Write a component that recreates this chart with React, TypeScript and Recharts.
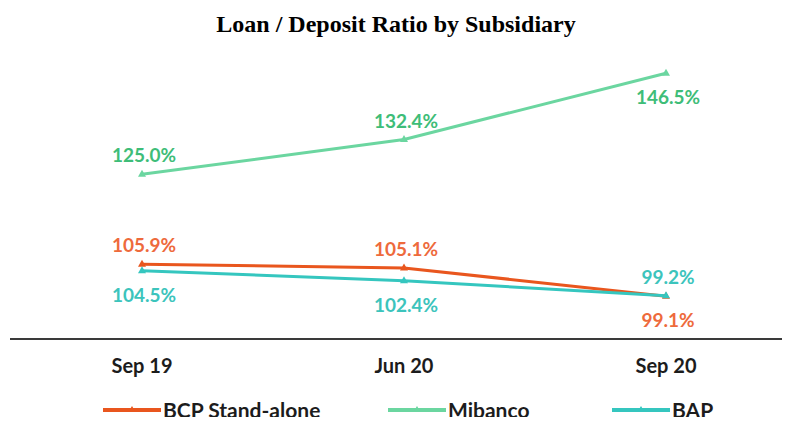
import React from 'react';
import { LineChart, Line, XAxis, YAxis } from 'recharts';

const periods = ['Sep 19', 'Jun 20', 'Sep 20'];
const bcpValues = [105.9, 105.1, 99.1];
const mibancoValues = [125.0, 132.4, 146.5];
const bapValues = [104.5, 102.4, 99.2];

// where each value label sits relative to its point
const bcpPlacement = ['above', 'above', 'below'];
const mibancoPlacement = ['above', 'above', 'below'];
const bapPlacement = ['below', 'below', 'above'];

const data = periods.map((period, i) => ({
    period,
    bcp: bcpValues[i],
    mibanco: mibancoValues[i],
    bap: bapValues[i],
}));

const series = [
    { key: 'bcp', name: 'BCP Stand-alone', stroke: '#E9561E', text: '#EE6A3C', placement: bcpPlacement },
    { key: 'mibanco', name: 'Mibanco', stroke: '#6BD6A0', text: '#3EBD78', placement: mibancoPlacement },
    { key: 'bap', name: 'BAP', stroke: '#35C6BF', text: '#3CC4BC', placement: bapPlacement },
];

const FONT = 'Lato, "Open Sans", sans-serif';

const Triangle = (color: string) => (props: any) => {
    const { cx, cy } = props;
    if (cx == null || cy == null) return null;
    return <path d={`M${cx},${cy - 4.5} L${cx + 4},${cy + 2.5} L${cx - 4},${cy + 2.5} Z`} fill={color} />;
};

const makeLabel = (color: string, placement: string[]) => (props: any) => {
    const { x, y, value, index } = props;
    const above = placement[index] === 'above';
    return (
        <text
            x={x + 2}
            y={above ? y - 12 : y + 31}
            textAnchor="middle"
            fill={color}
            fontFamily={FONT}
            fontWeight={700}
            fontSize={19}
        >
            {`${Number(value).toFixed(1)}%`}
        </text>
    );
};

const LegendItem = ({ name, color, left }: { name: string; color: string; left: number }) => (
    <div style={{ position: 'absolute', left, top: 0, display: 'flex', alignItems: 'center' }}>
        <svg width={58} height={10}>
            <line x1={0} y1={5} x2={58} y2={5} stroke={color} strokeWidth={4} />
            <path d="M29,1 L32,6 L26,6 Z" fill={color} />
        </svg>
        <span style={{ marginLeft: 2, fontFamily: FONT, fontWeight: 700, fontSize: 21, color: '#1c1c1c' }}>{name}</span>
    </div>
);

const App = () => {
    return (
        <div style={{ position: 'relative', width: 776, height: 409 }}>
            <div
                style={{
                    position: 'absolute',
                    top: 3,
                    left: 0,
                    width: 776,
                    textAlign: 'center',
                    fontFamily: '"Liberation Serif", "Times New Roman", serif',
                    fontWeight: 700,
                    fontSize: 24,
                    color: '#000',
                }}
            >
                Loan / Deposit Ratio by Subsidiary
            </div>
            <LineChart width={776} height={409} data={data} margin={{ top: 44, right: 2, left: 2, bottom: 0 }}>
                <XAxis
                    dataKey="period"
                    height={78}
                    padding={{ left: 132, right: 116 }}
                    axisLine={{ stroke: '#3a3a3a', strokeWidth: 2 }}
                    tickLine={false}
                    tickMargin={14}
                    tick={{ fill: '#1c1c1c', fontFamily: FONT, fontWeight: 700, fontSize: 20 }}
                />
                <YAxis hide domain={[90, 151]} />
                {series.map((s) => (
                    <Line
                        key={s.key}
                        dataKey={s.key}
                        name={s.name}
                        type="linear"
                        stroke={s.stroke}
                        strokeWidth={3}
                        dot={Triangle(s.stroke)}
                        activeDot={false}
                        label={makeLabel(s.text, s.placement)}
                        isAnimationActive={false}
                    />
                ))}
            </LineChart>
            <div style={{ position: 'absolute', top: 389, left: 0, width: 776, height: 26 }}>
                <LegendItem name={series[0].name} color={series[0].stroke} left={95} />
                <LegendItem name={series[1].name} color={series[1].stroke} left={380} />
                <LegendItem name={series[2].name} color={series[2].stroke} left={604} />
            </div>
        </div>
    );
};

export default App;
